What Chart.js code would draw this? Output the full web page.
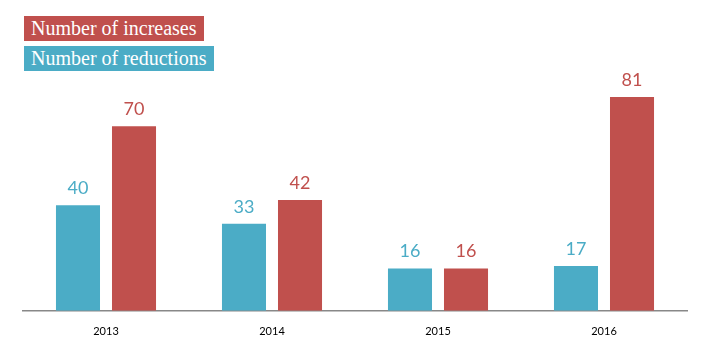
<!DOCTYPE html>
<html>
<head>
<meta charset="utf-8">
<script src="https://cdn.jsdelivr.net/npm/chart.js@4/dist/chart.umd.min.js"></script>
<style>
    html, body { margin: 0; padding: 0; background: #fff; }
    #wrap { position: relative; width: 710px; height: 354px; }
    .key {
        position: absolute; left: 24px; color: #fff;
        font-family: "Liberation Serif", "DejaVu Serif", serif;
        font-size: 20px; line-height: 25px; padding: 0 7px; height: 25px;
    }
</style>
</head>
<body>
<div id="wrap">
    <canvas id="chart" width="710" height="354"></canvas>
    <div class="key" style="top:16px;background:#C0504D;">Number of increases</div>
    <div class="key" style="top:46px;background:#4BACC6;">Number of reductions</div>
</div>
<script>
// datos
const years = ['2013', '2014', '2015', '2016'];
const reductions = [40, 33, 16, 17];
const increases = [70, 42, 16, 81];

const blue = '#4BACC6';
const red = '#C0504D';

// etiquetas encima de cada barra
const valueLabels = {
    id: 'valueLabels',
    afterDatasetsDraw(chart) {
        const ctx = chart.ctx;
        ctx.save();
        ctx.font = '18px Lato, "Open Sans", sans-serif';
        ctx.textAlign = 'center';
        ctx.textBaseline = 'bottom';
        chart.data.datasets.forEach((ds, i) => {
            ctx.fillStyle = ds.backgroundColor;
            chart.getDatasetMeta(i).data.forEach((bar, j) => {
                ctx.fillText(ds.data[j], bar.x, bar.y - 8);
            });
        });
        ctx.restore();
    }
};

new Chart(document.getElementById('chart').getContext('2d'), {
    type: 'bar',
    data: {
        labels: years,
        datasets: [
            { label: 'Number of reductions', data: reductions, backgroundColor: blue },
            { label: 'Number of increases', data: increases, backgroundColor: red }
        ]
    },
    options: {
        responsive: false,
        animation: false,
        categoryPercentage: 0.675,
        barPercentage: 0.786,
        layout: { padding: { left: 23, right: 23, top: 47, bottom: 2 } },
        plugins: {
            legend: { display: false },
            tooltip: { enabled: false }
        },
        scales: {
            x: {
                grid: { display: false, drawTicks: false },
                border: { display: true, color: '#888888', width: 1.5 },
                ticks: {
                    color: '#000',
                    padding: 14,
                    font: { family: 'Lato, "Open Sans", sans-serif', size: 11 }
                }
            },
            y: {
                display: false,
                min: 0,
                max: 100
            }
        }
    },
    plugins: [valueLabels]
});
</script>
</body>
</html>
